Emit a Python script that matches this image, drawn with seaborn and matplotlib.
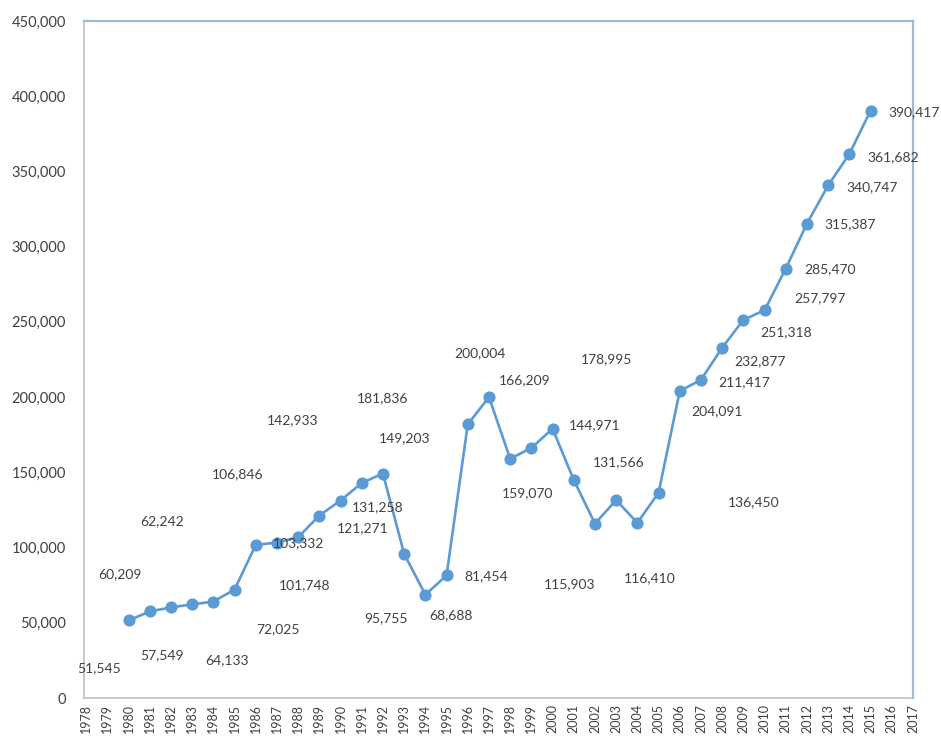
#!/usr/bin/env python3

# Yearly totals 1980-2015, line with markers and loosely placed value labels.

import matplotlib
matplotlib.use("Agg")
import matplotlib.pyplot as plt
from matplotlib.ticker import FuncFormatter, MultipleLocator
import pandas
import seaborn as sns

years = list(range(1980, 2016))
values = [
    51545, 57549, 60209, 62242, 64133, 72025, 101748, 103332, 106846, 121271,
    131258, 142933, 149203, 95755, 68688, 81454, 181836, 200004, 159070, 166209,
    178995, 144971, 115903, 131566, 116410, 136450, 204091, 211417, 232877, 251318,
    257797, 285470, 315387, 340747, 361682, 390417,
]
tick_years = list(range(1978, 2018))

# where each value label sits relative to its point (pixels, x right / y up)
label_dx = [
    -29, 12, -51, -30, 14, 43, 49, 22, -60, 43,
    37, -69, 22, -18, 26, 40, -85, -9, 17, -7,
    54, 21, -25, 3, 12, 95, 37, 43, 38, 43,
    55, 44, 43, 44, 44, 43,
]
label_dy = [
    -48, -44, 33, 83, -59, -40, -40, -1, 63, -13,
    -7, 63, 35, -64, -20, -1, 26, 44, -34, 68,
    70, 55, -61, 38, -55, -9, -20, -2, -14, -12,
    12, -1, -1, -2, -3, -2,
]

LINE = "#5B9BD5"
TEXT = "#404040"

sns.set_style("white")
plt.rcParams["font.family"] = ["Lato", "DejaVu Sans"]

df = pandas.DataFrame({"year": years, "value": values})

fig = plt.figure(figsize=(9.41, 7.39), dpi=100)
ax = fig.add_axes([84 / 941, 1 - 698 / 739, (913 - 84) / 941, (698 - 21) / 739])

sns.lineplot(
    data=df,
    x="year",
    y="value",
    ax=ax,
    color=LINE,
    linewidth=1.9,
    marker="o",
    markersize=8,
    markeredgecolor=LINE,
)

for yr, val, dx, dy in zip(years, values, label_dx, label_dy):
    ax.annotate(
        f"{val:,}",
        (yr, val),
        xytext=(dx, dy),
        textcoords="offset pixels",
        ha="center",
        va="center",
        fontsize=10,
        color=TEXT,
    )

ax.set_xlim(1977.9, 2017.0)
ax.set_ylim(0, 450000)
ax.yaxis.set_major_locator(MultipleLocator(50000))
ax.yaxis.set_major_formatter(FuncFormatter(lambda v, _: f"{int(v):,}"))
ax.set_xticks(tick_years)
ax.set_xticklabels([str(y) for y in tick_years], rotation=90)
ax.tick_params(axis="y", labelsize=10.5, labelcolor=TEXT, length=0, pad=13)
ax.tick_params(axis="x", labelsize=9, labelcolor=TEXT, length=0, pad=4)
ax.set_xlabel("")
ax.set_ylabel("")
ax.grid(False)

ax.spines["left"].set_color("#BFBFBF")
ax.spines["bottom"].set_color("#BFBFBF")
ax.spines["left"].set_linewidth(1.2)
ax.spines["bottom"].set_linewidth(1.2)
ax.spines["top"].set_color("#9DB9D3")
ax.spines["right"].set_color("#9DB9D3")
ax.spines["top"].set_linewidth(1.6)
ax.spines["right"].set_linewidth(1.6)

plt.savefig("out.png", dpi=100)
